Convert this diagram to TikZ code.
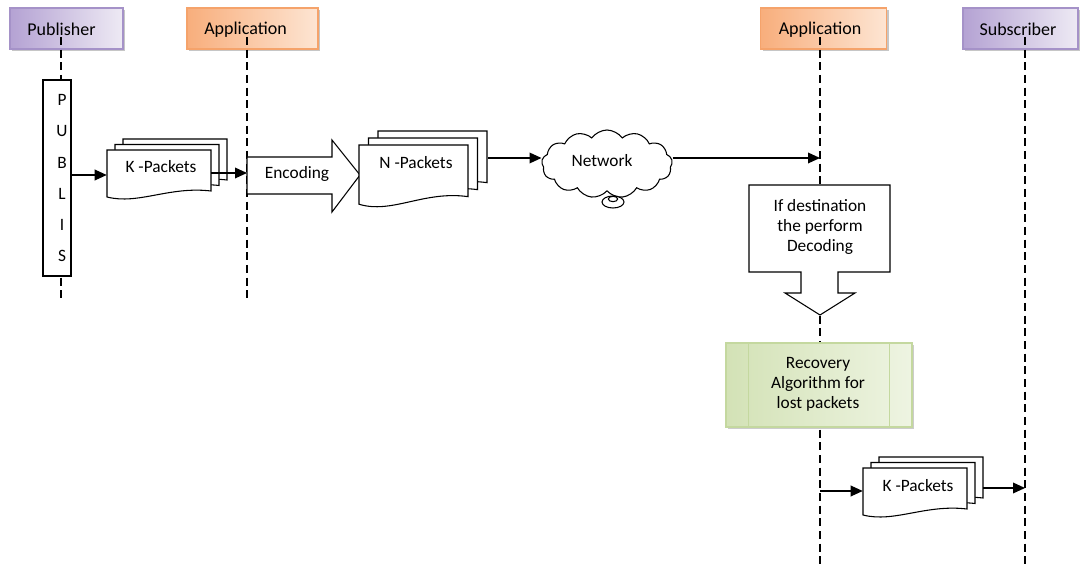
\documentclass[tikz,border=0pt]{standalone}
\usepackage{fontspec}
\setmainfont{Carlito}
\usetikzlibrary{shapes.symbols,shadows,arrows.meta,fit,calc}
\definecolor{purpL}{HTML}{B4A2D3}
\definecolor{purpR}{HTML}{EEEAF4}
\definecolor{purpB}{HTML}{A592C8}
\definecolor{orL}{HTML}{F8AE7C}
\definecolor{orR}{HTML}{FDE5D3}
\definecolor{orB}{HTML}{F5A36B}
\definecolor{grL}{HTML}{D3E2B6}
\definecolor{grR}{HTML}{EEF4E2}
\definecolor{grB}{HTML}{C4D89F}
\tikzset{
  hdr/.style={minimum height=30.75pt, inner sep=0, line width=0.8pt,
    drop shadow={shadow xshift=1.8pt,shadow yshift=-1.8pt,fill=black!50,opacity=.45}},
  pubhdr/.style={hdr, draw=purpB, left color=purpL, right color=purpR},
  apphdr/.style={hdr, draw=orB, left color=orL, right color=orR},
  life/.style={line width=1.3pt, dash pattern=on 6pt off 3.5pt},
  arr/.style={line width=1pt, -{Triangle[length=9pt,width=8pt]}},
  shp/.style={draw, line width=0.8pt, fill=white},
  txt/.style={font=\fontsize{13}{15}\selectfont, inner sep=0, align=center},
  htxt/.style={font=\fontsize{13.5}{15}\selectfont, inner sep=0, align=center},
  stack/.style={inner sep=0, draw=none},
}
\newcommand\docpage[4]{\draw[shp] ({#1},{#2}) -- ({#1+#3},{#2}) -- ({#1+#3},{#2+0.82*#4}) .. controls ({#1+0.6*#3},{#2+0.72*#4}) and ({#1+0.3*#3},{#2+1.1*#4}) .. ({#1},{#2+0.94*#4}) -- cycle;}
\newcommand\docstack[6]{\docpage{#1+2*#5}{#2-2*#6}{#3}{#4}\docpage{#1+#5}{#2-#6}{#3}{#4}\docpage{#1}{#2}{#3}{#4}}
\begin{document}
\begin{tikzpicture}[x=0.75pt,y=-0.75pt]
\useasboundingbox (0,0) rectangle (1080,566);
% headers
\node[pubhdr, minimum width=84.75pt] (hpub) at (66.5,28.5) {};
\node[htxt] (hpubT) at (61.5,29.5) {Publisher};
\node[apphdr, minimum width=98.25pt] (happ1) at (252.5,28.5) {};
\node[htxt] (happ1T) at (245.5,29.5) {Application};
\node[apphdr, minimum width=94.5pt] (happ2) at (823.5,28.5) {};
\node[htxt] (happ2T) at (820,29.5) {Application};
\node[pubhdr, minimum width=86.25pt] (hsub) at (1020.5,28.5) {};
\node[htxt] (hsubT) at (1018,29.5) {Subscriber};
% lifelines
\coordinate (l1a) at (61,37); \coordinate (l1b) at (61,300);
\coordinate (l2a) at (247,37); \coordinate (l2b) at (247,300);
\coordinate (l3a) at (820,37); \coordinate (l3b) at (820,566);
\coordinate (l4a) at (1025,37); \coordinate (l4b) at (1025,566);
\draw[life] (l1a) -- (l1b);
\draw[life] (l2a) -- (l2b);
\draw[life] (l3a) -- (l3b);
\draw[life] (l4a) -- (l4b);
% PUBLIS
\node[shp, minimum width=21pt, minimum height=147pt, inner sep=0] (publis) at (57,178) {};
\node[txt, font=\fontsize{13}{23.25}\selectfont] (publisT) at (62,178) {P\\U\\B\\L\\I\\S};
% K-packets (top)
\docstack{107}{150}{104}{50}{8}{5.5}
\node[stack, fit={(107,150)(211,200)}] (kA) {};
\node[stack, fit={(107,139)(227,200)}] (kAs) {};
\node[txt] (kAT) at (161,167) {K -Packets};
% Encoding arrow
\draw[shp] (247,157) -- (332,157) -- (332,140) -- (360,175) -- (332,212) -- (332,194) -- (247,194) -- cycle;
\node[txt] (enc) at (297,174) {Encoding};
% N-packets
\docstack{359}{145}{109}{63}{9.5}{7}
\node[stack, fit={(359,145)(468,208)}] (nA) {};
\node[stack, fit={(359,131)(488,208)}] (nAs) {};
\node[txt] (nAT) at (416,163) {N -Packets};
% Network cloud
\node[cloud, shp, cloud puffs=13, cloud puff arc=110, aspect=1.9, minimum width=98pt, minimum height=51pt, inner sep=0] (net) at (607,164) {};
\node[txt] (netT) at (602,161) {Network};
\draw[shp] (613,202) ellipse [x radius=8.25pt, y radius=4.5pt];
\draw[line width=0.8pt] (613,199) ellipse [x radius=3.5pt, y radius=2pt];
% Decoding callout
\draw[shp] (749,185) -- (890,185) -- (890,272) -- (838,272) -- (838,293) -- (855,293) -- (820,315) -- (785,293) -- (801,293) -- (801,272) -- (749,272) -- cycle;
\node[txt] (dec) at (820,227) {If destination\\the perform\\Decoding};
% Recovery
\node[draw=grB, line width=0.9pt, left color=grL, right color=grR, minimum width=139.5pt, minimum height=63pt, inner sep=0,
  drop shadow={shadow xshift=1.8pt,shadow yshift=-1.8pt,fill=black!50,opacity=.4}] (rec) at (819,385) {};
\draw[grB, line width=0.9pt] ([xshift=17.25pt]rec.north west) -- ([xshift=17.25pt]rec.south west);
\draw[grB, line width=0.9pt] ([xshift=-17.25pt]rec.north east) -- ([xshift=-17.25pt]rec.south east);
\node[txt] (recT) at (818,384) {Recovery\\Algorithm for\\lost packets};
% K-packets (bottom)
\docstack{863}{468}{104}{50}{8}{5.5}
\node[stack, fit={(863,468)(967,518)}] (kB) {};
\node[stack, fit={(863,457)(983,518)}] (kBs) {};
\node[txt] (kBT) at (918,486) {K -Packets};
% connectors
\coordinate (e1) at (247,173);
\coordinate (e2) at (820,158);
\coordinate (e3) at (820,491);
\coordinate (e4) at (1025,488);
\draw[arr] (publis.east |- 0,175) -- (kA.west |- 0,175);
\draw[arr] (kA.east |- e1) -- (e1);
\draw[arr] (nAs.east |- 0,158) -- (net.west |- 0,158);
\draw[arr] (net.east |- e2) -- (e2);
\draw[arr] (e3) -- (kB.west |- e3);
\draw[arr] (kBs.east |- e4) -- (e4);
\end{tikzpicture}
\end{document}
